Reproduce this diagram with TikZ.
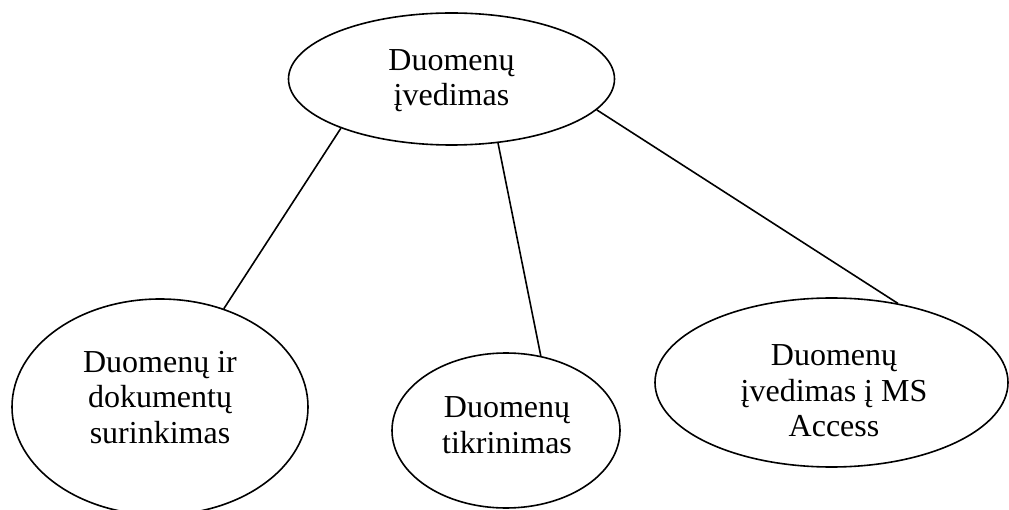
\documentclass[tikz,border=0pt]{standalone}
\usepackage{fontspec}
\setmainfont{Liberation Serif}
\usetikzlibrary{shapes.geometric}
\begin{document}
\begin{tikzpicture}[x=1pt,y=-1pt,
  ell/.style={draw,ellipse,line width=1.6pt,inner sep=0pt},
  lbl/.style={align=center,font=\fontsize{32}{35.5}\selectfont,inner sep=0pt},
  conn/.style={line width=1.6pt}]
\useasboundingbox (0,0) rectangle (1009,510);
\node[ell,minimum width=326pt,minimum height=132pt] (top) at (451.5,79) {};
\node[ell,minimum width=296pt,minimum height=216pt] (left) at (160,407) {};
\node[ell,minimum width=228pt,minimum height=155pt] (mid) at (506,430.5) {};
\node[ell,minimum width=353pt,minimum height=169pt] (right) at (831.5,382.5) {};
\node[lbl] (toptext) at (451.5,80.5) {Duomenų\\įvedimas};
\node[lbl] (lefttext) at (160,397.5) {Duomenų ir\\dokumentų\\surinkimas};
\node[lbl] (midtext) at (507,425) {Duomenų\\tikrinimas};
\node[lbl] (righttext) at (834,391) {Duomenų\\įvedimas į MS\\Access};
\draw[conn] (top.204.5) -- (left.57.8);
\draw[conn] (top.306.9) -- (mid.65.5);
\draw[conn] (top.348.7) -- (right.50.6);
\end{tikzpicture}
\end{document}
